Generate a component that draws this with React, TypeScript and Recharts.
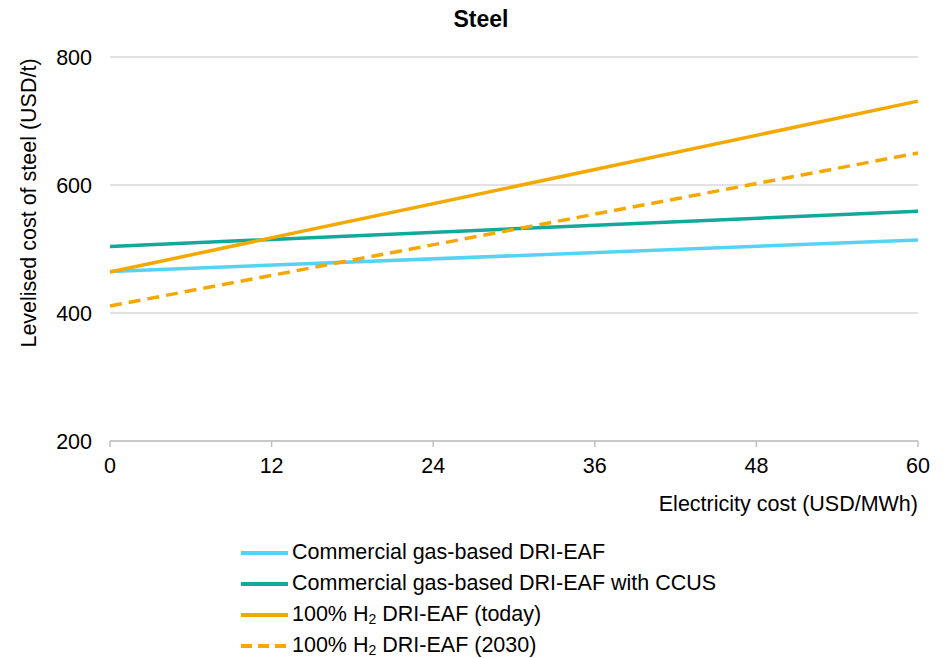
import React from "react";
import { LineChart, Line, XAxis, YAxis, CartesianGrid } from "recharts";

const electricityCost = [0, 60];
const gasDriEaf = [465, 514];
const gasDriEafCcus = [504, 559];
const h2Today = [464, 731];
const h2In2030 = [411, 650];
const xTicks = [0, 12, 24, 36, 48, 60];
const yTicks = [200, 400, 600, 800];

const FONT = '"Liberation Sans", Arial, sans-serif';
const FS = 21.5;

const series = [
  { key: "gas", name: "Commercial gas-based DRI-EAF", values: gasDriEaf, color: "#55d3f5", dash: undefined },
  { key: "ccus", name: "Commercial gas-based DRI-EAF with CCUS", values: gasDriEafCcus, color: "#12a89a", dash: undefined },
  { key: "h2t", name: "100% H\u2082 DRI-EAF (today)", values: h2Today, color: "#f4a800", dash: undefined },
  { key: "h2f", name: "100% H\u2082 DRI-EAF (2030)", values: h2In2030, color: "#f4a800", dash: "12 7" },
];

const data = electricityCost.map((x, i) => {
  const row: Record<string, number> = { x };
  series.forEach((s) => {
    row[s.key] = s.values[i];
  });
  return row;
});

function LegendName({ name }: { name: string }) {
  const idx = name.indexOf("H\u2082");
  if (idx < 0) return <span>{name}</span>;
  return (
    <span>
      {name.slice(0, idx)}H<sub style={{ fontSize: 14, verticalAlign: "-3px" }}>2</sub>
      {name.slice(idx + 2)}
    </span>
  );
}

export default function App() {
  return (
    <div style={{ position: "absolute", left: 0, top: 0, width: 946, height: 658, background: "#fff", fontFamily: FONT }}>
      <div
        style={{
          position: "absolute",
          top: 6,
          left: 16,
          width: 930,
          textAlign: "center",
          fontWeight: "bold",
          fontSize: 23,
          color: "#000",
        }}
      >
        Steel
      </div>
      <LineChart width={946} height={658} data={data} margin={{ top: 57, right: 28, left: 0, bottom: 157 }}>
        <CartesianGrid vertical={false} stroke="#d9d9d9" strokeWidth={1.5} />
        <XAxis
          dataKey="x"
          type="number"
          domain={[0, 60]}
          ticks={xTicks}
          height={60}
          axisLine={{ stroke: "#bfbfbf", strokeWidth: 1.5 }}
          tickLine={{ stroke: "#bfbfbf", strokeWidth: 1.5 }}
          tickSize={6}
          tickMargin={11}
          tick={{ fill: "#000", fontSize: FS, fontFamily: FONT }}
          label={{
            content: () => (
              <text x={918} y={511} textAnchor="end" fill="#000" fontSize={FS} fontFamily={FONT}>
                Electricity cost (USD/MWh)
              </text>
            ),
          }}
        />
        <YAxis
          type="number"
          domain={[200, 800]}
          ticks={yTicks}
          width={110}
          axisLine={false}
          tickLine={false}
          tickSize={0}
          tickMargin={18}
          tick={{ fill: "#000", fontSize: FS, fontFamily: FONT }}
          label={{
            content: () => (
              <text
                x={29}
                y={203}
                transform="rotate(-90 29 203)"
                textAnchor="middle"
                dominantBaseline="central"
                fill="#000"
                fontSize={FS}
                fontFamily={FONT}
              >
                Levelised cost of steel (USD/t)
              </text>
            ),
          }}
        />
        {series.map((s) => (
          <Line
            key={s.key}
            dataKey={s.key}
            name={s.name}
            stroke={s.color}
            strokeWidth={3.5}
            strokeDasharray={s.dash}
            dot={false}
            activeDot={false}
            isAnimationActive={false}
          />
        ))}
      </LineChart>
      <div style={{ position: "absolute", left: 240, top: 537, fontSize: FS, color: "#000" }}>
        {series.map((s) => (
          <div key={s.key} style={{ display: "flex", alignItems: "center", height: 31 }}>
            <svg width={50} height={10} style={{ marginRight: 2 }}>
              <line x1={1} y1={5} x2={48} y2={5} stroke={s.color} strokeWidth={4} strokeDasharray={s.dash ? "11 6" : undefined} />
            </svg>
            <LegendName name={s.name} />
          </div>
        ))}
      </div>
    </div>
  );
}
